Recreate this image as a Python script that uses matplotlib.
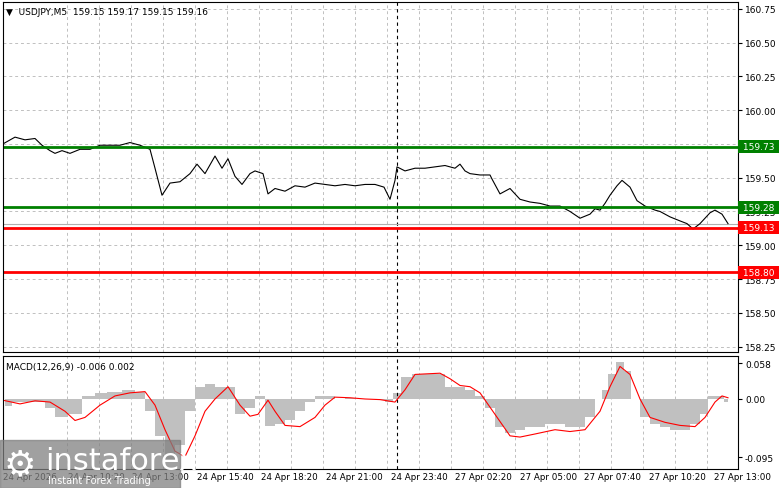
import matplotlib.pyplot as plt
import numpy as np

# price chart: bar index (M5) and close
price_bar = [0, 6, 11, 16, 19.5, 23.5, 26, 29.5, 33.5, 38.5, 43.5, 48.5, 53.5, 58.5, 63.5, 68.5, 73.5, 76, 79.5, 83.5, 88.5, 93.5, 97, 101, 106, 109.5, 112.5, 116, 119.5, 123.5, 126, 130, 132.5, 136, 141, 146, 151, 156, 161, 166, 171, 176, 181, 186, 190.5, 193.5, 196, 197, 201, 206, 211, 216, 221, 226, 228.5, 231, 233.5, 238.5, 243.5, 244.5, 248.5, 253.5, 258.5, 263.5, 268.5, 273.5, 278.5, 283.5, 288.5, 293.5, 296, 298.5, 301, 303.5, 307, 309.5, 313.5, 317, 321, 326, 328.5, 333.5, 338.5, 342, 345, 348.5, 351, 353.5, 356, 359.5, 362.5]
price = [159.75, 159.80, 159.78, 159.79, 159.74, 159.70, 159.68, 159.70, 159.68, 159.71, 159.71, 159.74, 159.74, 159.74, 159.76, 159.74, 159.71, 159.57, 159.37, 159.46, 159.47, 159.53, 159.60, 159.53, 159.66, 159.57, 159.64, 159.51, 159.45, 159.53, 159.55, 159.53, 159.38, 159.42, 159.40, 159.44, 159.43, 159.46, 159.45, 159.44, 159.45, 159.44, 159.45, 159.45, 159.43, 159.34, 159.48, 159.58, 159.55, 159.57, 159.57, 159.58, 159.59, 159.57, 159.60, 159.55, 159.53, 159.52, 159.52, 159.49, 159.38, 159.42, 159.34, 159.32, 159.31, 159.29, 159.29, 159.25, 159.20, 159.23, 159.27, 159.26, 159.31, 159.37, 159.44, 159.48, 159.43, 159.33, 159.29, 159.26, 159.25, 159.21, 159.18, 159.16, 159.12, 159.16, 159.20, 159.24, 159.26, 159.23, 159.16]

# MACD histogram
hist_bar = [1, 8.5, 18.5, 23.5, 28.5, 36, 43.5, 48.5, 56, 63.5, 68.5, 73.5, 78.5, 83.5, 88.5, 93.5, 98.5, 103.5, 108.5, 113.5, 118.5, 123.5, 128.5, 133.5, 138.5, 143.5, 148.5, 153.5, 158.5, 163.5, 168.5, 173.5, 178.5, 183.5, 188.5, 193.5, 197, 201, 208.5, 218.5, 223.5, 228.5, 233.5, 238.5, 243.5, 248.5, 253.5, 258.5, 263.5, 268.5, 273.5, 278.5, 283.5, 288.5, 293.5, 298.5, 301, 304.5, 308.5, 312.5, 316, 321, 326, 331, 336, 341, 346, 351, 354.5, 358.5, 362.5]
hist = [-0.011, -0.005, -0.005, -0.015, -0.030, -0.025, 0.005, 0.010, 0.012, 0.015, 0.012, -0.020, -0.060, -0.100, -0.075, -0.020, 0.020, 0.025, 0.020, 0.020, -0.025, -0.015, 0.005, -0.044, -0.040, -0.035, -0.020, -0.005, 0.005, 0.005, 0.000, 0.002, 0.000, 0.000, -0.002, -0.005, 0.010, 0.035, 0.040, 0.040, 0.020, 0.020, 0.015, 0.005, -0.015, -0.045, -0.055, -0.050, -0.045, -0.045, -0.040, -0.040, -0.045, -0.045, -0.030, 0.000, 0.015, 0.040, 0.060, 0.045, 0.000, -0.030, -0.040, -0.045, -0.050, -0.050, -0.040, -0.025, 0.005, 0.005, -0.005]

# MACD signal line
sig_bar = [0, 8.5, 16, 23.5, 31, 36, 41, 48.5, 56, 63.5, 71, 76, 81, 86, 91, 96, 101, 106, 112.5, 118.5, 123.5, 127.5, 132.5, 136, 141, 148.5, 156, 161, 166, 173.5, 181, 188.5, 196, 201, 206, 218.5, 223.5, 228.5, 233.5, 238.5, 246, 253.5, 258.5, 266, 276, 283.5, 291, 298.5, 303.5, 308.5, 313.5, 318.5, 323.5, 331, 338.5, 346, 351, 356, 359.5, 362.5]
signal = [-0.002, -0.008, -0.003, -0.005, -0.020, -0.035, -0.030, -0.010, 0.005, 0.010, 0.012, -0.010, -0.050, -0.085, -0.094, -0.060, -0.020, 0.000, 0.020, -0.010, -0.028, -0.025, -0.002, -0.020, -0.043, -0.045, -0.030, -0.010, 0.003, 0.002, 0.000, -0.001, -0.005, 0.015, 0.040, 0.042, 0.033, 0.022, 0.020, 0.010, -0.025, -0.060, -0.062, -0.057, -0.050, -0.053, -0.050, -0.020, 0.020, 0.053, 0.040, 0.000, -0.030, -0.038, -0.043, -0.045, -0.030, -0.005, 0.005, 0.002]

levels = [159.73, 159.28, 159.13, 158.80]
level_colors = ["#008000", "#008000", "#ff0000", "#ff0000"]
last_price = 159.16
price_ticks = [160.75, 160.50, 160.25, 160.00, 159.75, 159.50, 159.25, 159.00, 158.75, 158.50, 158.25]
time_labels = ["24 Apr 2026", "24 Apr 10:20", "24 Apr 13:00", "24 Apr 15:40", "24 Apr 18:20", "24 Apr 21:00",
               "24 Apr 23:40", "27 Apr 02:20", "27 Apr 05:00", "27 Apr 07:40", "27 Apr 10:20", "27 Apr 13:00"]

W, H = 781, 489
fig = plt.figure(figsize=(W / 100, H / 100), dpi=100)
ax = fig.add_axes([3 / W, 1 - 353 / H, 735 / W, 350 / H])
mx = fig.add_axes([3 / W, 1 - 470 / H, 735 / W, 113 / H])

XMAX = 367.5
grid_x = np.arange(32, XMAX, 16)
for a in (ax, mx):
    a.set_xlim(0, XMAX)
    a.set_xticks([])
    for s in a.spines.values():
        s.set_linewidth(0.8)
    for gx in grid_x:
        a.axvline(gx, color="#c0c0c0", ls=(0, (3, 3)), lw=0.7, zorder=0)
    a.axvline(197, color="black", ls=(0, (3, 3)), lw=0.8)
    a.yaxis.tick_right()
    a.tick_params(axis="y", length=3, labelsize=6.5, pad=2)

ax.set_ylim(158.21, 160.80)
ax.set_yticks(price_ticks)
ax.set_yticklabels([f"{t:.2f}" for t in price_ticks])
for t in price_ticks:
    ax.axhline(t, color="#c0c0c0", ls=(0, (3, 3)), lw=0.7, zorder=0)

ax.axhline(last_price, color="#b0b0b0", lw=0.8)
ax.plot(price_bar, price, color="black", lw=0.8)
for lv, c in zip(levels, level_colors):
    ax.axhline(lv, color=c, lw=2)
    ax.text(1.003, lv, f" {lv:.2f} ", transform=ax.get_yaxis_transform(), va="center", ha="left",
            fontsize=6.5, color="white", zorder=10,
            bbox=dict(boxstyle="square,pad=0.2", fc=c, ec="none"))
ax.text(0.004, 0.985, "\u25bc  USDJPY,M5  159.15 159.17 159.15 159.16", transform=ax.transAxes,
        fontsize=6.5, va="top", ha="left")

mx.set_ylim(-0.114, 0.070)
mx.set_yticks([0.058, 0.0, -0.095])
mx.set_yticklabels(["0.058", "0.00", "-0.095"])
mx.fill_between(hist_bar, hist, 0, step="mid", color="#c0c0c0", lw=0)
mx.plot(sig_bar, signal, color="red", lw=0.8)
mx.text(0.004, 0.95, "MACD(12,26,9) -0.006 0.002", transform=mx.transAxes, fontsize=6.5, va="top")

for i, lab in enumerate(time_labels):
    fig.text((3 + 64.6 * i) / W, 1 - 478 / H, lab, fontsize=6.3, va="center", ha="left")

# watermark
fig.patches.append(plt.Rectangle((0, 0), 180 / W, 48 / H, transform=fig.transFigure,
                                 color="#808080", alpha=0.75, zorder=5))
fig.text(45 / W, 1 - 462 / H, "instaforex", fontsize=22, color="white", va="center", zorder=6)
fig.text(48 / W, 1 - 481 / H, "Instant Forex Trading", fontsize=7, color="white", va="center", zorder=6)
fig.text(20 / W, 1 - 465 / H, "\u2699", fontsize=26, color="white", va="center", ha="center", zorder=6)

fig.savefig("out.png", dpi=100)
